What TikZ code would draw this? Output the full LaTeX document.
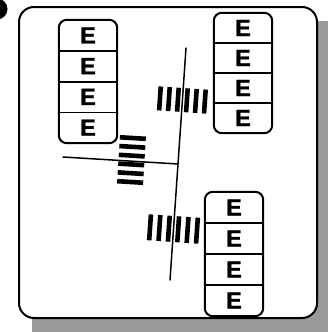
\documentclass[tikz,border=0pt]{standalone}
\usepackage{fontspec}
\setsansfont{Liberation Sans}
\newfontfamily\letra[FakeBold=1.2]{Liberation Sans Bold}
\usetikzlibrary{calc}
\definecolor{tinta}{HTML}{000000}
\definecolor{sombra}{HTML}{999999}
\tikzset{
  % Marco exterior con su sombra
  marco/.style   = {line width=2pt, draw=tinta, fill=white, rounded corners=15pt},
  sombreado/.style = {fill=sombra, draw=none, rounded corners=15pt},
  % Pilas de celdas
  caja/.style    = {line width=2pt, draw=tinta, rounded corners=8pt},
  divisor/.style = {line width=1.6pt, color=tinta},
  celda/.style   = {inner sep=0pt, minimum width=58pt,
                    font=\fontsize{23.5}{23.5}\selectfont\letra},
  % Rectas largas y trazos gruesos que las cruzan
  recta/.style   = {line width=1.5pt, color=tinta, line cap=round},
  barra/.style   = {line width=4.6pt, color=tinta},
}

\begin{document}
\begin{tikzpicture}[x=1pt, y=-1pt]
  \useasboundingbox (0,0) rectangle (328,332);
  \clip (0,0) rectangle (328,332);

  % ============================================================
  % Marco, sombra y punto de la esquina
  % ============================================================
  \fill[sombreado] (32,21) rectangle (342,346);
  \draw[marco] (19,7) rectangle (317,318);
  \fill[tinta] (-3,9) circle (10.5);

  % ============================================================
  % Pilas de cuatro celdas
  % ============================================================
  \foreach \nombre/\x/\y/\h in {pilaA/59/20/30.75, pilaB/214/13/30, pilaC/205/192/31}{
    \foreach \i in {1,...,4}{
      \node[celda, minimum height=\h pt] (\nombre\i) at (\x+29, \y+\h*\i-\h/2) {E};
    }
    \draw[caja] (\nombre1.north west) rectangle (\nombre4.south east);
    \foreach \i in {1,2,3}
      \draw[divisor] (\nombre\i.south west) -- (\nombre\i.south east);
  }

  % ============================================================
  % Rectas
  % ============================================================
  \coordinate (L1a) at (186,48);
  \coordinate (L1b) at (170,280);
  \coordinate (L2a) at (63,157);
  \coordinate (L2b) at (178,164);
  \draw[recta] (L1a) -- (L1b);
  \draw[recta] (L2a) -- (L2b);

  % ============================================================
  % Trazos que cruzan las rectas
  % ============================================================
  \coordinate (cA) at (182.4,100);
  \coordinate (cB) at (173.5,229);
  \coordinate (cC) at (131.5,160);

  \foreach \k in {-2.5,-1.5,...,2.5}{
    \draw[barra] ($(cA)+(\k*9*0.9976,\k*9*0.0688)+(0.0688*12,-0.9976*12)$)
      -- ++(-0.0688*24,0.9976*24);
    \draw[barra] ($(cB)+(\k*9.4*0.9976,\k*9.4*0.0688)+(0.0688*13,-0.9976*13)$)
      -- ++(-0.0688*26,0.9976*26);
    \draw[barra] ($(cC)+(-\k*8.8*0.0608,\k*8.8*0.998)+(-0.998*13,-0.0608*13)$)
      -- ++(0.998*26,0.0608*26);
  }

\end{tikzpicture}
\end{document}
